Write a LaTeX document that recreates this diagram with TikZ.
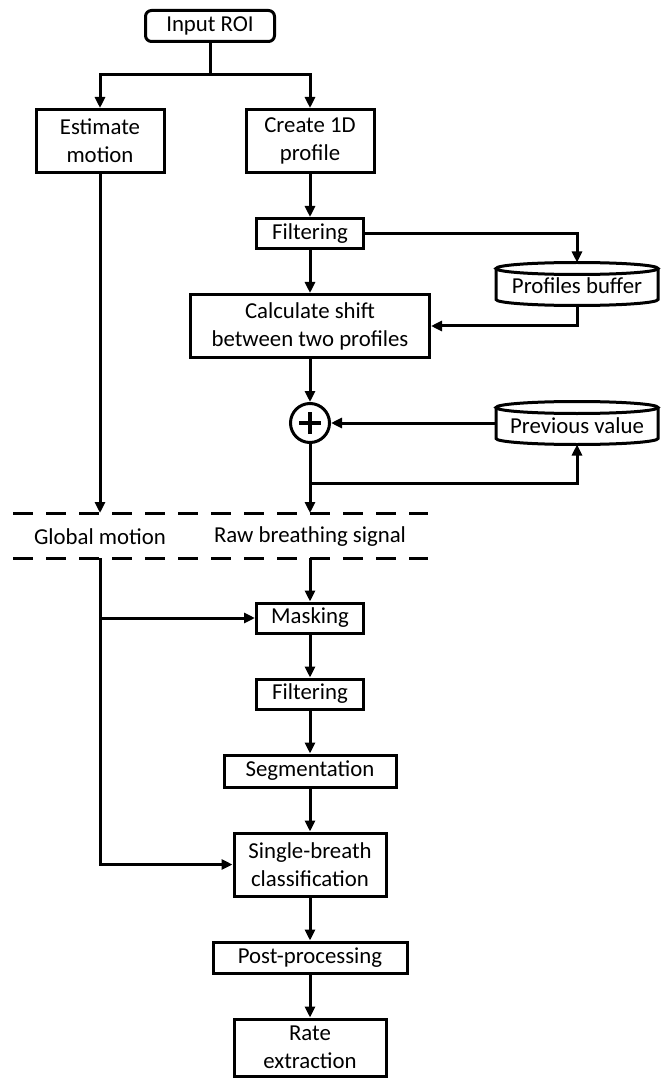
\documentclass[tikz,border=0pt]{standalone}
\usepackage{fontspec}
\setmainfont{Carlito}
\usetikzlibrary{positioning,arrows.meta}

% outline of a storage (drum) node
\newcommand{\dbshape}[1]{%
  \draw ([yshift=-3pt]#1.north) ellipse [x radius=40.5pt, y radius=3pt];
  \draw ([yshift=-3pt]#1.north west) -- ([yshift=3pt]#1.south west)
    arc [start angle=180, end angle=360, x radius=40.5pt, y radius=3pt]
    -- ([yshift=-3pt]#1.north east);}

\begin{document}
\begin{tikzpicture}[x=0.5pt, y=0.5pt, node distance=21.5pt,
    font=\fontsize{11.4}{14}\selectfont, line width=1.5pt,
    >={Triangle[length=5.5pt,width=5pt]},
    block/.style={draw, rectangle, align=center, inner sep=1pt, minimum height=15pt},
    tall/.style={block, minimum height=31.5pt},
    db/.style={rectangle, inner sep=0pt, outer sep=0pt, minimum width=81pt,
      minimum height=21.5pt, text height=11pt, text depth=1pt},
    sumnode/.style={draw, circle, minimum size=19.5pt, inner sep=0pt,
      path picture={\draw[line width=1.6pt] (path picture bounding box.center) +(-5.5pt,0) -- +(5.5pt,0)
        (path picture bounding box.center) +(0,-5.5pt) -- +(0,5.5pt);}}]
    \useasboundingbox (0,0) rectangle (666,-1080);

    % upper part
    \node[block, rounded corners=3pt, minimum width=64.5pt, minimum height=15.5pt] (roi) at (210,-26) {Input ROI};
    \node[tall, minimum width=64pt] (est) at (100,-141) {Estimate\\motion};
    \node[tall, minimum width=64pt] (prof) at (310,-141) {Create 1D\\profile};
    \node[block, minimum width=53.5pt] (filt) [below=of prof] {Filtering};
    \node[tall, minimum width=119.5pt] (calc) [below=of filt] {Calculate shift\\between two profiles};
    \node[sumnode] (sum) [below=of calc] {};
    \node[db] (buf) at (577,-284) {Profiles buffer};
    \node[db] (prev) [right=82.5pt of sum] {Previous value};
    \dbshape{buf}
    \dbshape{prev}

    \coordinate (br) at (210,-75);
    \coordinate (fb) at (310,-483);
    \coordinate (gm1) at (100,-513);
    \coordinate (rb1) at (310,-513);

    \draw (roi) -- (br);
    \draw[->] (br) -| (est.north);
    \draw[->] (br) -| (prof.north);
    \draw[->] (prof) -- (filt);
    \draw[->] (filt) -- (calc);
    \draw[->] (filt.east) -| (buf.north);
    \draw[->] (buf.south) |- (calc.east);
    \draw[->] (calc) -- (sum);
    \draw[->] (prev.west) -- (sum.east);
    \draw[->] (sum) -- (rb1);
    \draw[->] (fb) -| (prev.south);
    \draw[->] (est) -- (gm1);

    % signal bar
    \coordinate (d1) at (13,-513);
    \coordinate (d2) at (428,-513);
    \coordinate (d3) at (13,-558);
    \coordinate (d4) at (428,-558);
    \draw[dash pattern=on 10pt off 6.5pt] (d1) -- (d2) (d3) -- (d4);
    \node (gm) at (100,-537) {Global motion};
    \node (rb) at (310,-537) {Raw breathing signal};

    % lower part
    \coordinate (gm2) at (100,-558);
    \coordinate (rb2) at (310,-558);
    \node[block, minimum width=53.5pt] (mask) at (310,-618) {Masking};
    \node[block, minimum width=53.5pt] (filt2) [below=of mask] {Filtering};
    \node[block, minimum width=86pt, minimum height=16pt] (seg) [below=of filt2] {Segmentation};
    \node[tall, minimum width=76pt] (single) [below=of seg] {Single-breath\\classification};
    \node[block, minimum width=97pt, minimum height=15.5pt] (post) [below=of single] {Post-processing};
    \node[tall, minimum width=76pt, minimum height=28.5pt] (rate) [below=of post] {Rate\\extraction};

    \draw[->] (rb2) -- (mask);
    \draw[->] (gm2) |- (single.west);
    \draw[->] (gm2 |- mask.west) -- (mask.west);
    \draw[->] (mask) -- (filt2);
    \draw[->] (filt2) -- (seg);
    \draw[->] (seg) -- (single);
    \draw[->] (single) -- (post);
    \draw[->] (post) -- (rate);
\end{tikzpicture}
\end{document}
